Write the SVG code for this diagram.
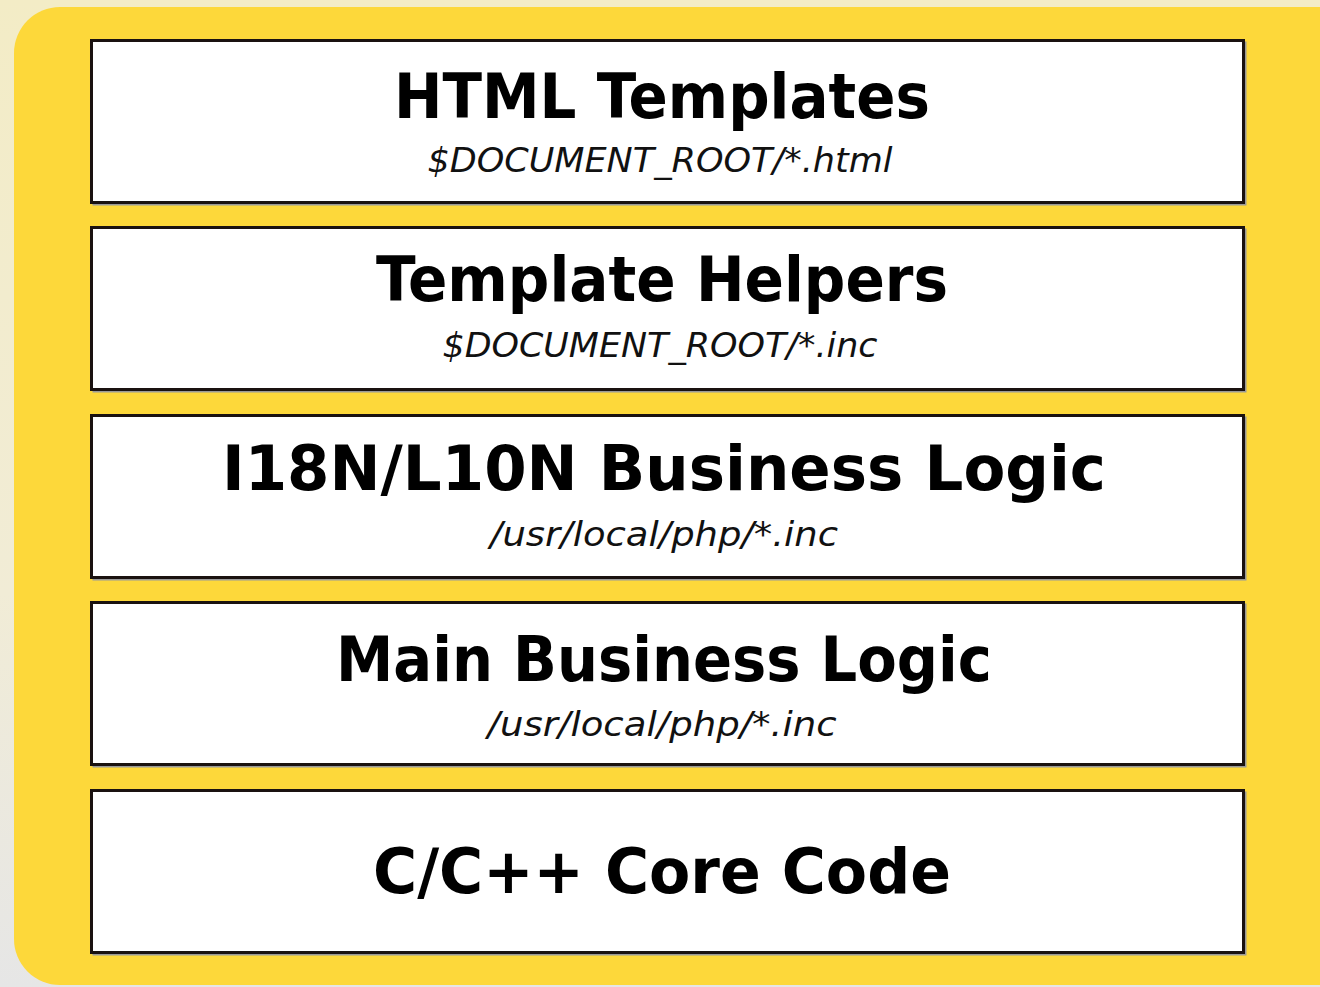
<svg xmlns="http://www.w3.org/2000/svg" width="1320" height="987" viewBox="0 0 1320 987">
<defs>
<linearGradient id="bgfade" x1="0" y1="0" x2="0" y2="1">
<stop offset="0" stop-color="#f3ecc6"/>
<stop offset="0.6" stop-color="#f1ecd6"/>
<stop offset="1" stop-color="#e6e6e6"/>
</linearGradient>
<style>
.box{fill:#ffffff;stroke:#1a1210;stroke-width:3}
.shadow{fill:none;stroke:#9a9a9a;stroke-width:2}
.title{font-family:"DejaVu Sans",Verdana,sans-serif;font-weight:bold;font-size:63px;fill:#000;text-anchor:middle}
.sub{font-family:"DejaVu Sans",Verdana,sans-serif;font-style:italic;font-size:33px;fill:#111;text-anchor:middle}
</style>
</defs>
<rect x="0" y="0" width="1320" height="987" fill="url(#bgfade)"/>
<rect x="14" y="7" width="1350" height="978" rx="46" ry="46" fill="#fdd83a"/>
<g id="connectors"></g>
<g id="node-html">
<rect class="shadow" x="93.5" y="42.5" width="1152" height="162"/>
<rect class="box" x="91.5" y="40.5" width="1152" height="162"/>
<text class="title" x="662" y="118" textLength="536" lengthAdjust="spacingAndGlyphs">HTML Templates</text>
<text class="sub" x="660" y="172" textLength="465" lengthAdjust="spacingAndGlyphs">$DOCUMENT_ROOT/*.html</text>
</g>
<g id="node-helpers">
<rect class="shadow" x="93.5" y="229.5" width="1152" height="162"/>
<rect class="box" x="91.5" y="227.5" width="1152" height="162"/>
<text class="title" x="662" y="301" textLength="572" lengthAdjust="spacingAndGlyphs">Template Helpers</text>
<text class="sub" x="660" y="357" textLength="435" lengthAdjust="spacingAndGlyphs">$DOCUMENT_ROOT/*.inc</text>
</g>
<g id="node-i18n">
<rect class="shadow" x="93.5" y="417.5" width="1152" height="162"/>
<rect class="box" x="91.5" y="415.5" width="1152" height="162"/>
<text class="title" x="664" y="490" textLength="884" lengthAdjust="spacingAndGlyphs">I18N/L10N Business Logic</text>
<text class="sub" x="664" y="546" textLength="348" lengthAdjust="spacingAndGlyphs">/usr/local/php/*.inc</text>
</g>
<g id="node-main">
<rect class="shadow" x="93.5" y="604.5" width="1152" height="162"/>
<rect class="box" x="91.5" y="602.5" width="1152" height="162"/>
<text class="title" x="664" y="681" textLength="656" lengthAdjust="spacingAndGlyphs">Main Business Logic</text>
<text class="sub" x="662" y="736" textLength="349" lengthAdjust="spacingAndGlyphs">/usr/local/php/*.inc</text>
</g>
<g id="node-core">
<rect class="shadow" x="93.5" y="792.5" width="1152" height="162"/>
<rect class="box" x="91.5" y="790.5" width="1152" height="162"/>
<text class="title" x="662" y="893" textLength="578" lengthAdjust="spacingAndGlyphs">C/C++ Core Code</text>
</g>
</svg>
